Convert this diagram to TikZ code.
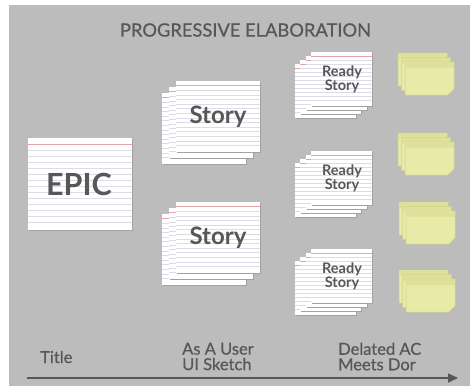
\documentclass[tikz,border=0pt]{standalone}
\usepackage{fontspec}
\setmainfont{Lato}
\newfontfamily\medfont{Lato}[FakeBold=0.6]
\usetikzlibrary{arrows.meta}
\definecolor{bggray}{HTML}{BCBCBC}
\definecolor{txtgray}{HTML}{575757}
\definecolor{cardline}{HTML}{DCDCE8}
\definecolor{cardred}{HTML}{E8A3AA}
\definecolor{cardshadow}{HTML}{A2A2A2}
\definecolor{notefill}{HTML}{E8EAA8}
\definecolor{noteband}{HTML}{DFE19A}
\definecolor{noteedge}{HTML}{D0D28C}
\newcommand\idxcard[5]{%
  \fill[cardshadow] (#1+1.2,#2+1.2) rectangle ++(#3,#4);
  \fill[white] (#1,#2) rectangle ++(#3,#4);
  \pgfmathtruncatemacro\nlines{(#4-#5)/#5}
  \foreach \i in {2,...,\nlines} {\draw[cardline,line width=0.6pt] (#1,#2+\i*#5) -- ++(#3,0);}
  \draw[cardred,line width=0.7pt] (#1,#2+#5) -- ++(#3,0);
}
\newcommand\stickynote[4]{%
  \fill[notefill,draw=noteedge,line width=0.5pt] (#1,#2) -- ++(#3,0) -- ++(0,#4-6) -- ++(-6,6) -- ++(-#3+6,0) -- cycle;
  \fill[noteband] (#1+0.3,#2+0.3) rectangle ++(#3-0.6,6);
}
\newcommand\notestack[2]{%
  \stickynote{#1-7}{#2-9}{49}{33}
  \stickynote{#1-3.5}{#2-4.5}{49}{33}
  \stickynote{#1}{#2}{49}{33}
}
\newcommand\readystack[2]{%
  \idxcard{#1-16.5}{#2+12}{61}{54}{4}
  \idxcard{#1-11}{#2+8}{61}{54}{4}
  \idxcard{#1-5.5}{#2+4}{61}{54}{4}
  \idxcard{#1}{#2}{61}{54}{4}
}
\newcommand\storystack[2]{%
  \idxcard{#1-14}{#2+12}{84}{71}{4.6}
  \idxcard{#1-7}{#2+6}{84}{71}{4.6}
  \idxcard{#1}{#2}{84}{71}{4.6}
}
\tikzset{
  lbl/.style={text=txtgray,font=\medfont\fontsize{16.5}{15.5}\selectfont,align=left,inner sep=0pt},
  readytxt/.style={text=txtgray,font=\bfseries\fontsize{14.5}{12.5}\selectfont,align=center,inner sep=0pt},
  storytxt/.style={text=txtgray,font=\bfseries\fontsize{24}{24}\selectfont,inner sep=0pt},
}
\begin{document}
\begin{tikzpicture}[x=1pt,y=-1pt]
\useasboundingbox (0,0) rectangle (470,386);
\fill[white] (0,0) rectangle (470,386);
\fill[bggray] (9,5) rectangle (470,386);
\node[text=txtgray,font=\medfont\fontsize{18.3}{18}\selectfont,inner sep=0pt] (title) at (245.5,30) {PROGRESSIVE ELABORATION};
% EPIC
\idxcard{28}{138}{104}{92}{6}
\node[text=txtgray,font=\bfseries\fontsize{30.5}{30}\selectfont,inner sep=0pt] (epic) at (79,184) {EPIC};
% Story stacks
\storystack{176}{81}
\node[storytxt] (story1) at (218,117) {Story};
\storystack{176}{202}
\node[storytxt] (story2) at (218,238) {Story};
% Ready stacks
\readystack{311}{52}
\node[readytxt] (ready1) at (342,79) {Ready\\Story};
\readystack{311}{151}
\node[readytxt] (ready2) at (342,178) {Ready\\Story};
\readystack{311}{249}
\node[readytxt] (ready3) at (342,276) {Ready\\Story};
% sticky notes
\notestack{405}{62}
\notestack{405}{142}
\notestack{406}{211}
\notestack{406}{279}
% bottom labels
\node[lbl,anchor=west] (t1) at (40,357) {Title};
\node[lbl,anchor=west] (t2) at (182,356.5) {As A User\\UI Sketch};
\node[lbl,anchor=west] (t3) at (338,356.5) {Delated AC\\Meets Dor};
\coordinate (a0) at (27,378);
\coordinate (a1) at (458,378);
\draw[txtgray,line width=1.5pt,-{Triangle[length=10pt,width=9pt]}] (a0) -- (a1);
\end{tikzpicture}
\end{document}
